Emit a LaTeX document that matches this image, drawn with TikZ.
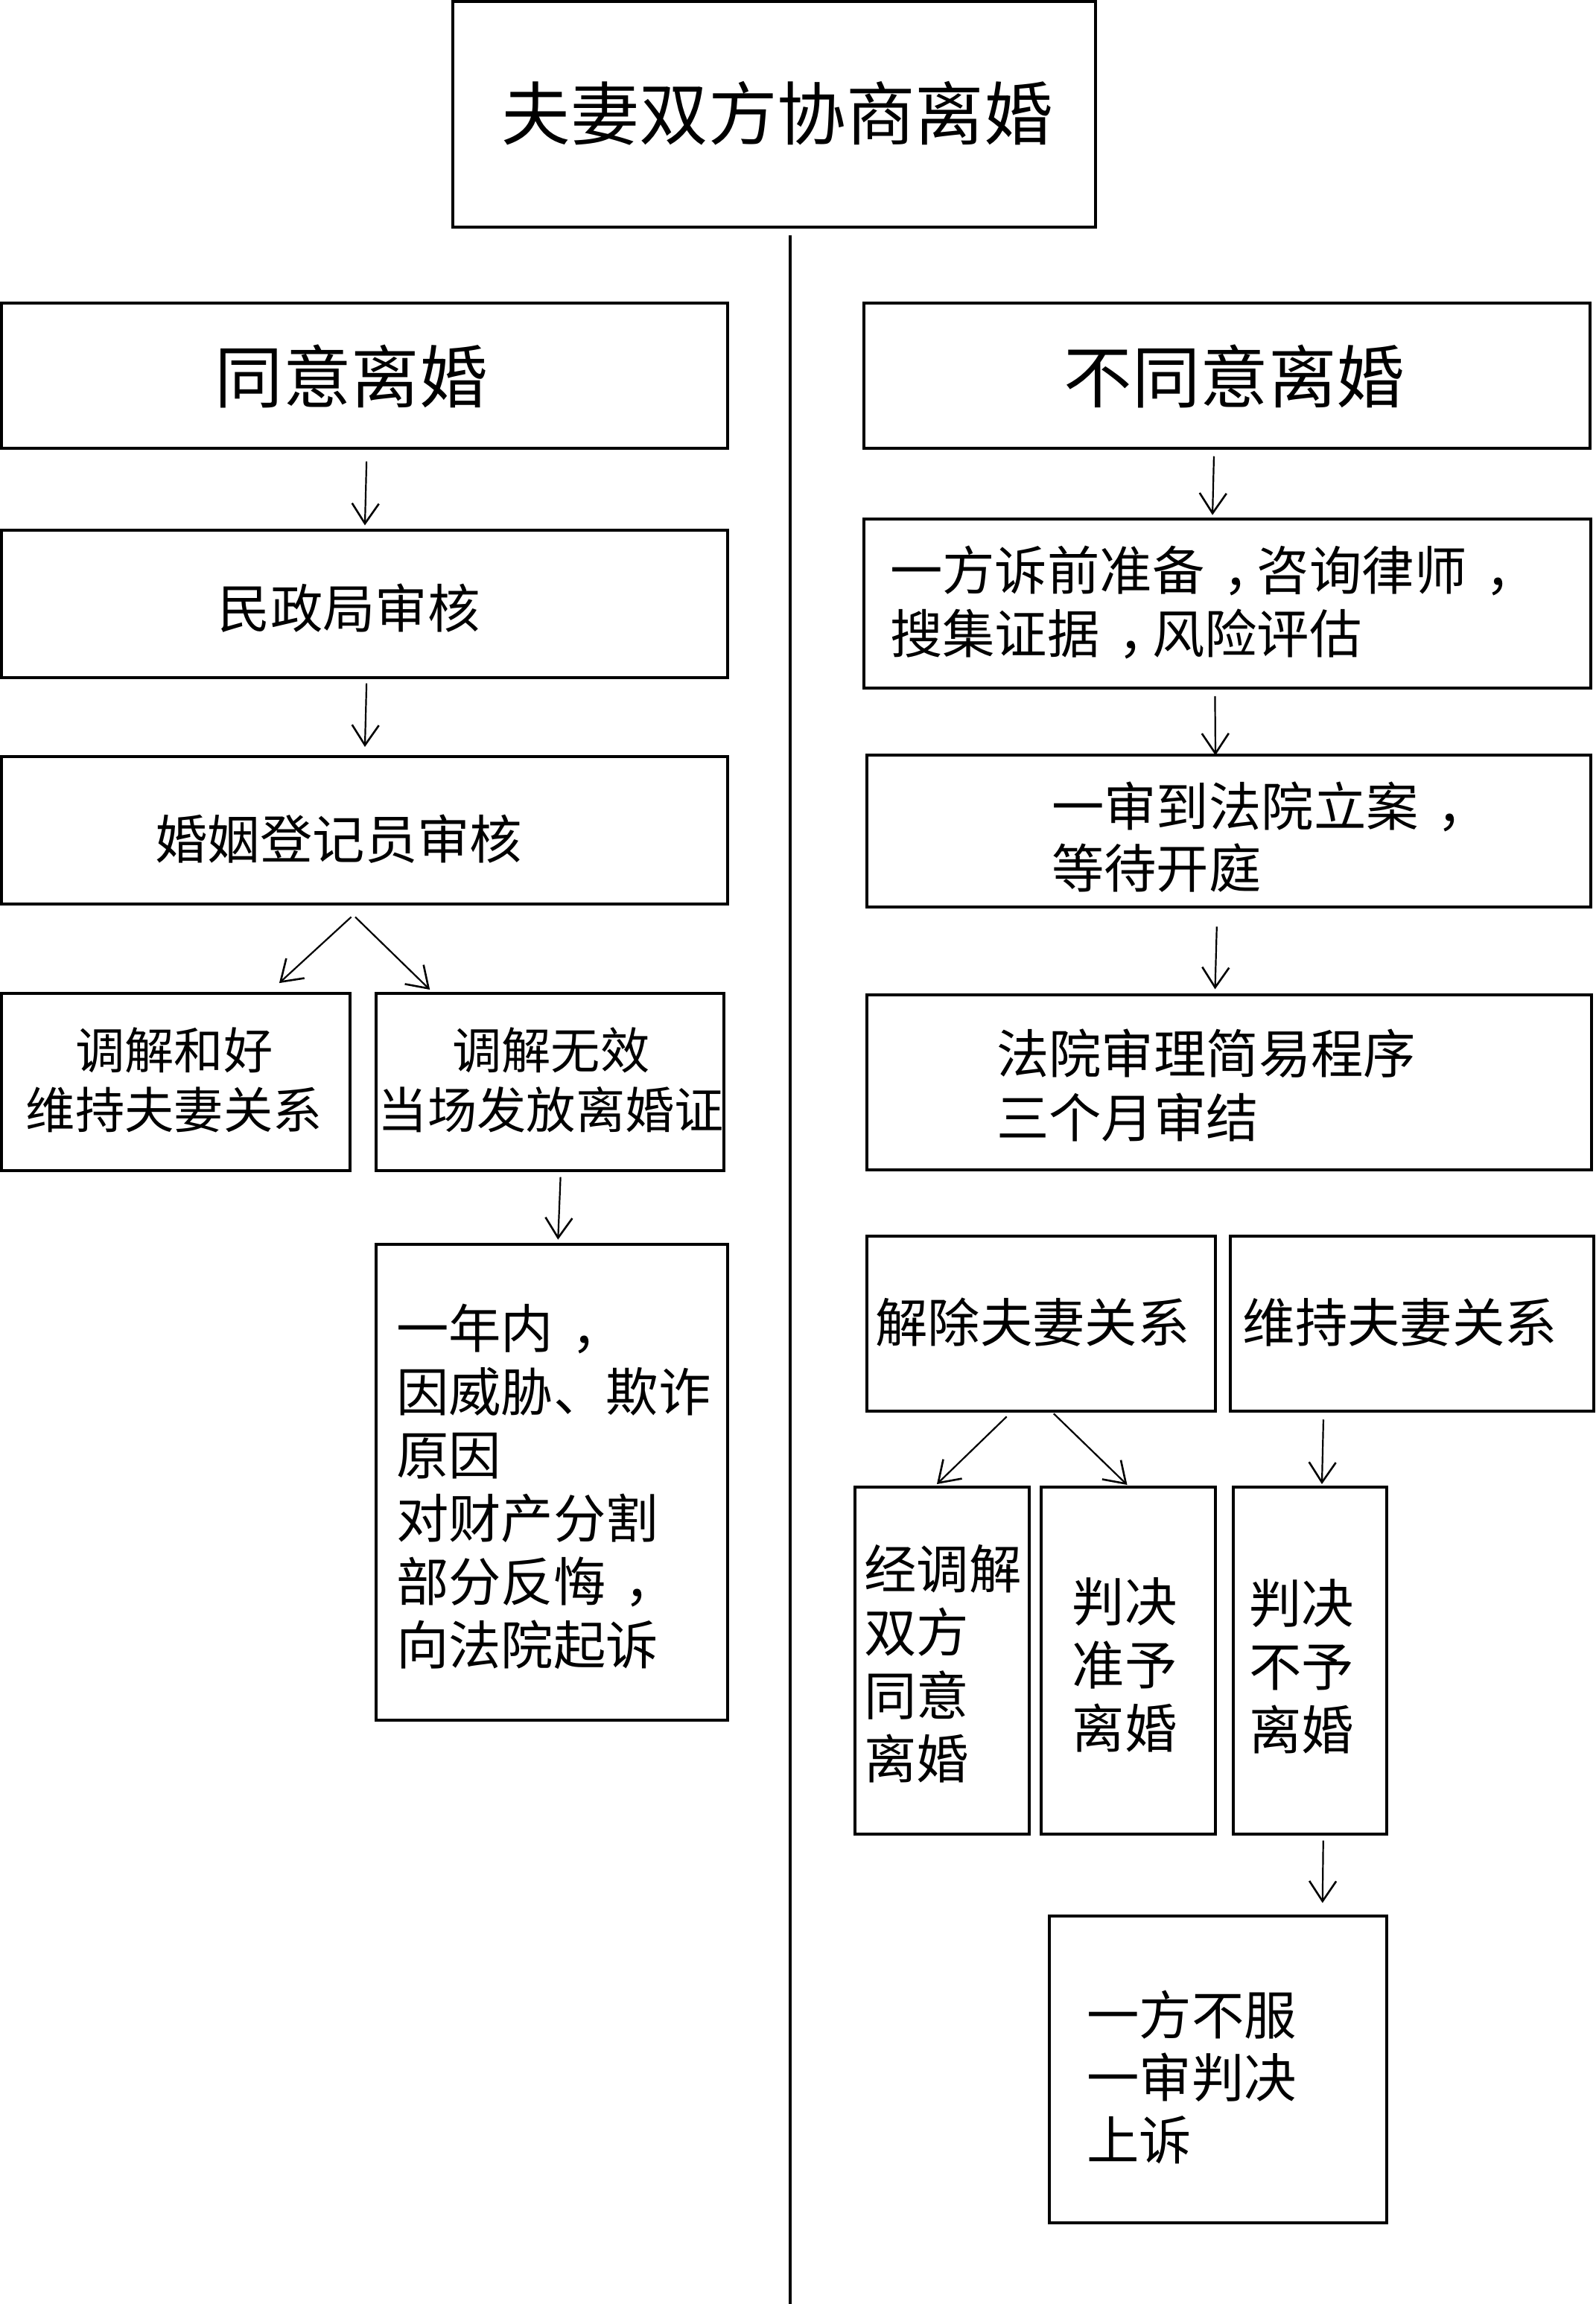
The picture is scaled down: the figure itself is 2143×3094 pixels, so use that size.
\documentclass[tikz,border=0pt]{standalone}
\usepackage{fontspec}
\setmainfont{Noto Sans CJK SC}
\newcommand\cc{\kern0.35em，\kern-0.35em}
\usetikzlibrary{arrows.meta,calc}
\newcommand\mkbox[5]{\node[box,minimum width={(#4-#2)*1.9733pt},minimum height={(#5-#3)*1.9733pt}] (#1) at ({(#2+#4)/2},{(#3+#5)/2}) {};}
\begin{document}
\begin{tikzpicture}[x=1.9733pt,y=-1.9733pt,
  box/.style={draw=black,line width=4pt,inner sep=0pt,fill=none},
  arr/.style={line width=2.2pt,-{Straight Barb[length=27pt,width=36pt,line width=2.6pt]}},
  divl/.style={line width=4pt},
  txt/.style={inner sep=0pt,align=left},
  ctxt/.style={inner sep=0pt,align=center},
  ftitle/.style={font=\fontsize{92.5}{110}\selectfont},
  fhead/.style={font=\fontsize{91.5}{110}\selectfont},
  fmid/.style={font=\fontsize{70.4}{85}\selectfont},
  fsmall/.style={font=\fontsize{66.3}{80}\selectfont}
]
\useasboundingbox (0pt,0pt) rectangle (2143pt,-3094pt);
\fill[white] (0pt,0pt) rectangle (2143pt,-3094pt);

% boxes
\mkbox{top}{308}{1}{745.5}{154.5}
\mkbox{gl}{1}{206}{495}{305}
\mkbox{bt}{588}{206}{1082}{305}
\mkbox{mz}{1}{361}{495}{461}
\mkbox{hy}{1}{515}{495}{615}
\mkbox{tja}{1}{676}{238}{796.5}
\mkbox{tjb}{256}{676}{492.5}{796.5}
\mkbox{yn}{256}{847}{495}{1170.5}
\mkbox{sq}{588}{353}{1082.5}{468}
\mkbox{ys}{590}{514}{1082.5}{617}
\mkbox{fy}{590}{677}{1083}{796}
\mkbox{jc}{590}{841}{827}{960.5}
\mkbox{wc}{837}{841}{1084.5}{960.5}
\mkbox{jt}{582}{1012}{700.5}{1248}
\mkbox{pz}{708.5}{1012}{827}{1248}
\mkbox{pb}{839}{1012}{943.5}{1248}
\mkbox{ss}{714}{1304}{943.5}{1512.5}

% texts
\node[ctxt,ftitle] (t0) at (529,77) {夫妻双方协商离婚};
\node[ctxt,fhead] (t1) at (239,256) {同意离婚};
\node[ctxt,fhead] (t2) at (840,256) {不同意离婚};
\node[ctxt,fmid] (t3) at (237.5,414) {民政局审核};
\node[ctxt,fmid] (t4) at (230.5,571) {婚姻登记员审核};
\node[ctxt,fsmall] (t5) at (118.5,735) {调解和好\\维持夫妻关系};
\node[ctxt,fsmall] (t6) at (375,735) {调解无效\\当场发放离婚证};
\node[txt,fmid,anchor=west] (t7) at (269.5,1011.5) {一年内\cc\\因威胁、欺诈\\原因\\对财产分割\\部分反悔\cc\\向法院起诉};
\node[txt,fmid,anchor=west] (t8) at (605.5,410) {一方诉前准备\cc 咨询律师\cc\\搜集证据\cc 风险评估};
\node[txt,font=\fontsize{70.4}{83}\selectfont,anchor=west] (t9) at (715.5,569.6) {一审到法院立案\cc\\等待开庭};
\node[txt,font=\fontsize{70.4}{86}\selectfont,anchor=west] (t10) at (678,738.5) {法院审理简易程序\\三个月审结};
\node[txt,fmid,anchor=west] (t11) at (595.5,900) {解除夫妻关系};
\node[txt,fmid,anchor=west] (t12) at (845.5,900) {维持夫妻关系};
\node[txt,fmid,anchor=west] (t13) at (588,1132) {经调解\\双方\\同意\\离婚};
\node[txt,fmid,anchor=west] (t14) at (729.5,1133) {判决\\准予\\离婚};
\node[txt,fmid,anchor=west] (t15) at (850,1134) {判决\\不予\\离婚};
\node[txt,font=\fontsize{70.4}{84}\selectfont,anchor=west] (t16) at (739.5,1413.5) {一方不服\\一审判决\\上诉};

% divider
\coordinate (dvb) at (537.75,1570);
\draw[divl] ($(top.south)+(11,4.5)$) -- (dvb);

% arrows left
\draw[arr] ($(gl.south)+(1.4,8)$) -- ($(mz.north)+(0.3,-2.5)$);
\draw[arr] ($(mz.south)+(1.4,3)$) -- ($(hy.north)+(0.3,-5.7)$);
\draw[arr] ($(hy.south)+(-9,8)$) -- ($(tja.north)+(70.5,-6)$);
\draw[arr] ($(hy.south)+(-6.3,8)$) -- ($(tjb.north)+(-81.75,-1.5)$);
\draw[arr] ($(tjb.south)+(7.15,3.5)$) -- ($(yn.north)+(4.2,-2.4)$);
% arrows right
\draw[arr] ($(bt.south)+(-9,4.5)$) -- ($(sq.north)+(-10.2,-1.5)$);
\draw[arr] ($(sq.south)+(-8.5,4.7)$) -- ($(ys.north)+(-9.2,1)$);
\draw[arr] ($(ys.south)+(-8.3,12.6)$) -- ($(fy.north)+(-9.7,-2.8)$);
\draw[arr] ($(jc.south)+(-23.5,2.5)$) -- ($(jt.north)+(-3.75,-1)$);
\draw[arr] ($(jc.south)+(8.5,0.5)$) -- ($(pz.north)+(-0.75,-0.5)$);
\draw[arr] ($(wc.south)+(-60.25,4.5)$) -- ($(pb.north)+(8.25,-1)$);
\draw[arr] ($(pb.south)+(9.15,3.5)$) -- ($(ss.north)+(71.15,-8)$);
\end{tikzpicture}
\end{document}
